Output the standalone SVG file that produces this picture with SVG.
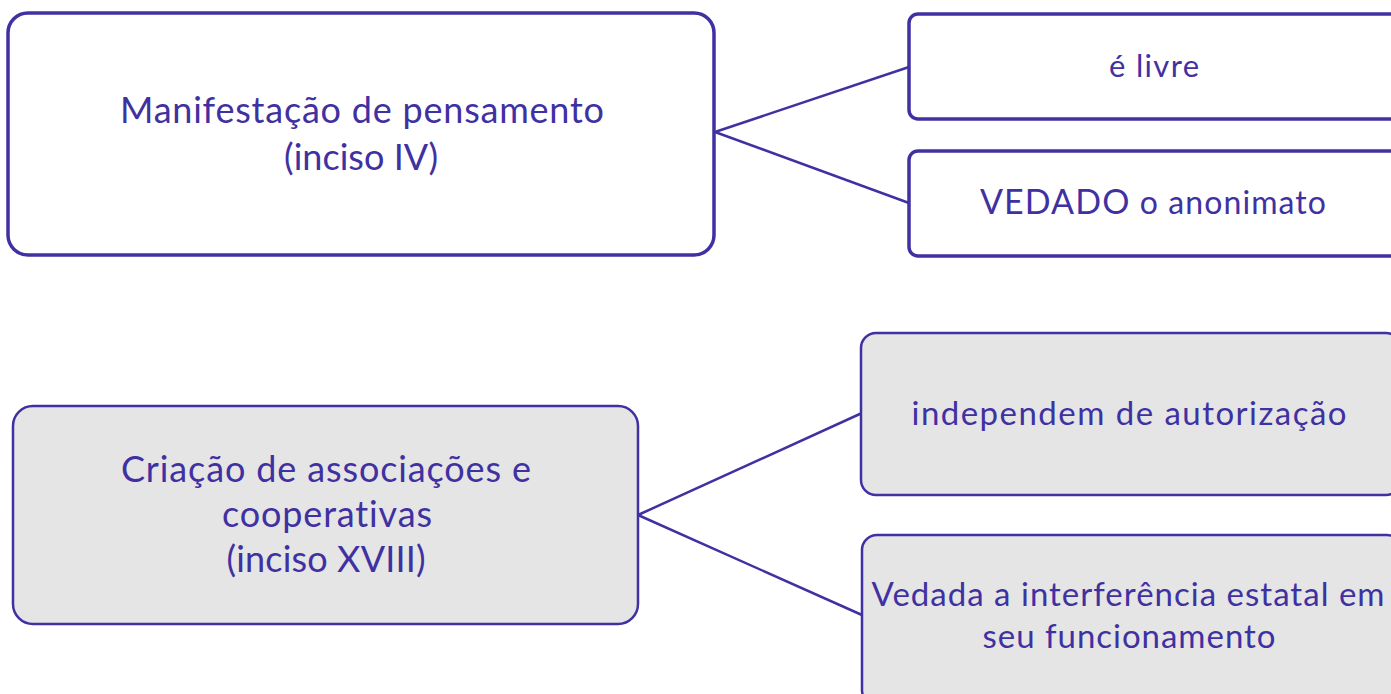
<svg xmlns="http://www.w3.org/2000/svg" width="1391" height="694" viewBox="0 0 1391 694">
<style>
.box{fill:#ffffff;stroke:#3f31a1;stroke-width:3.5}
.gbox{fill:#e5e5e5;stroke:#3f31a1;stroke-width:2.5}
.t{font-family:Lato,"Noto Sans",sans-serif;fill:#3f31a1;text-anchor:middle;font-variant-ligatures:none;font-feature-settings:"liga" 0,"dlig" 0}
.conn{stroke:#3f31a1;stroke-width:2.5;fill:none}
</style>
<rect width="1391" height="694" fill="#ffffff"/>
<g id="connectors">
<line class="conn" x1="715" y1="132" x2="909" y2="67"/>
<line class="conn" x1="715" y1="132" x2="909" y2="203"/>
<line class="conn" x1="638" y1="515" x2="862" y2="413"/>
<line class="conn" x1="638" y1="515" x2="862" y2="615"/>
</g>
<g id="n1">
<rect class="box" x="8" y="13" width="706" height="242" rx="20"/>
<text class="t" x="362" y="123" font-size="36" textLength="484" lengthAdjust="spacing">Manifestação de pensamento</text>
<text class="t" x="361" y="170" font-size="36" textLength="154" lengthAdjust="spacing">(inciso IV)</text>
</g>
<g id="n2">
<rect class="box" x="909" y="14" width="500" height="105" rx="9"/>
<text class="t" x="1154" y="77" font-size="31" textLength="90" lengthAdjust="spacing">é livre</text>
</g>
<g id="n3">
<rect class="box" x="909" y="151" width="500" height="105" rx="9"/>
<text class="t" x="1153" y="214" font-size="32" textLength="346" lengthAdjust="spacing"><tspan font-size="34">VEDADO</tspan> o anonimato</text>
</g>
<g id="n4">
<rect class="gbox" x="861" y="333" width="540" height="162" rx="15"/>
<text class="t" x="1129" y="425" font-size="33" textLength="435" lengthAdjust="spacing">independem de autorização</text>
</g>
<g id="n5">
<rect class="gbox" x="862" y="535" width="540" height="170" rx="15"/>
<text class="t" x="1128" y="606" font-size="33" textLength="513" lengthAdjust="spacing">Vedada a interferência estatal em</text>
<text class="t" x="1129" y="648" font-size="33" textLength="293" lengthAdjust="spacing">seu funcionamento</text>
</g>
<g id="n6">
<rect class="gbox" x="13" y="406" width="625" height="218" rx="20"/>
<text class="t" x="326" y="482" font-size="36" textLength="410" lengthAdjust="spacing">Criação de associações e</text>
<text class="t" x="327" y="527" font-size="36" textLength="210" lengthAdjust="spacing">cooperativas</text>
<text class="t" x="326" y="572" font-size="36" textLength="199" lengthAdjust="spacing">(inciso XVIII)</text>
</g>
</svg>
